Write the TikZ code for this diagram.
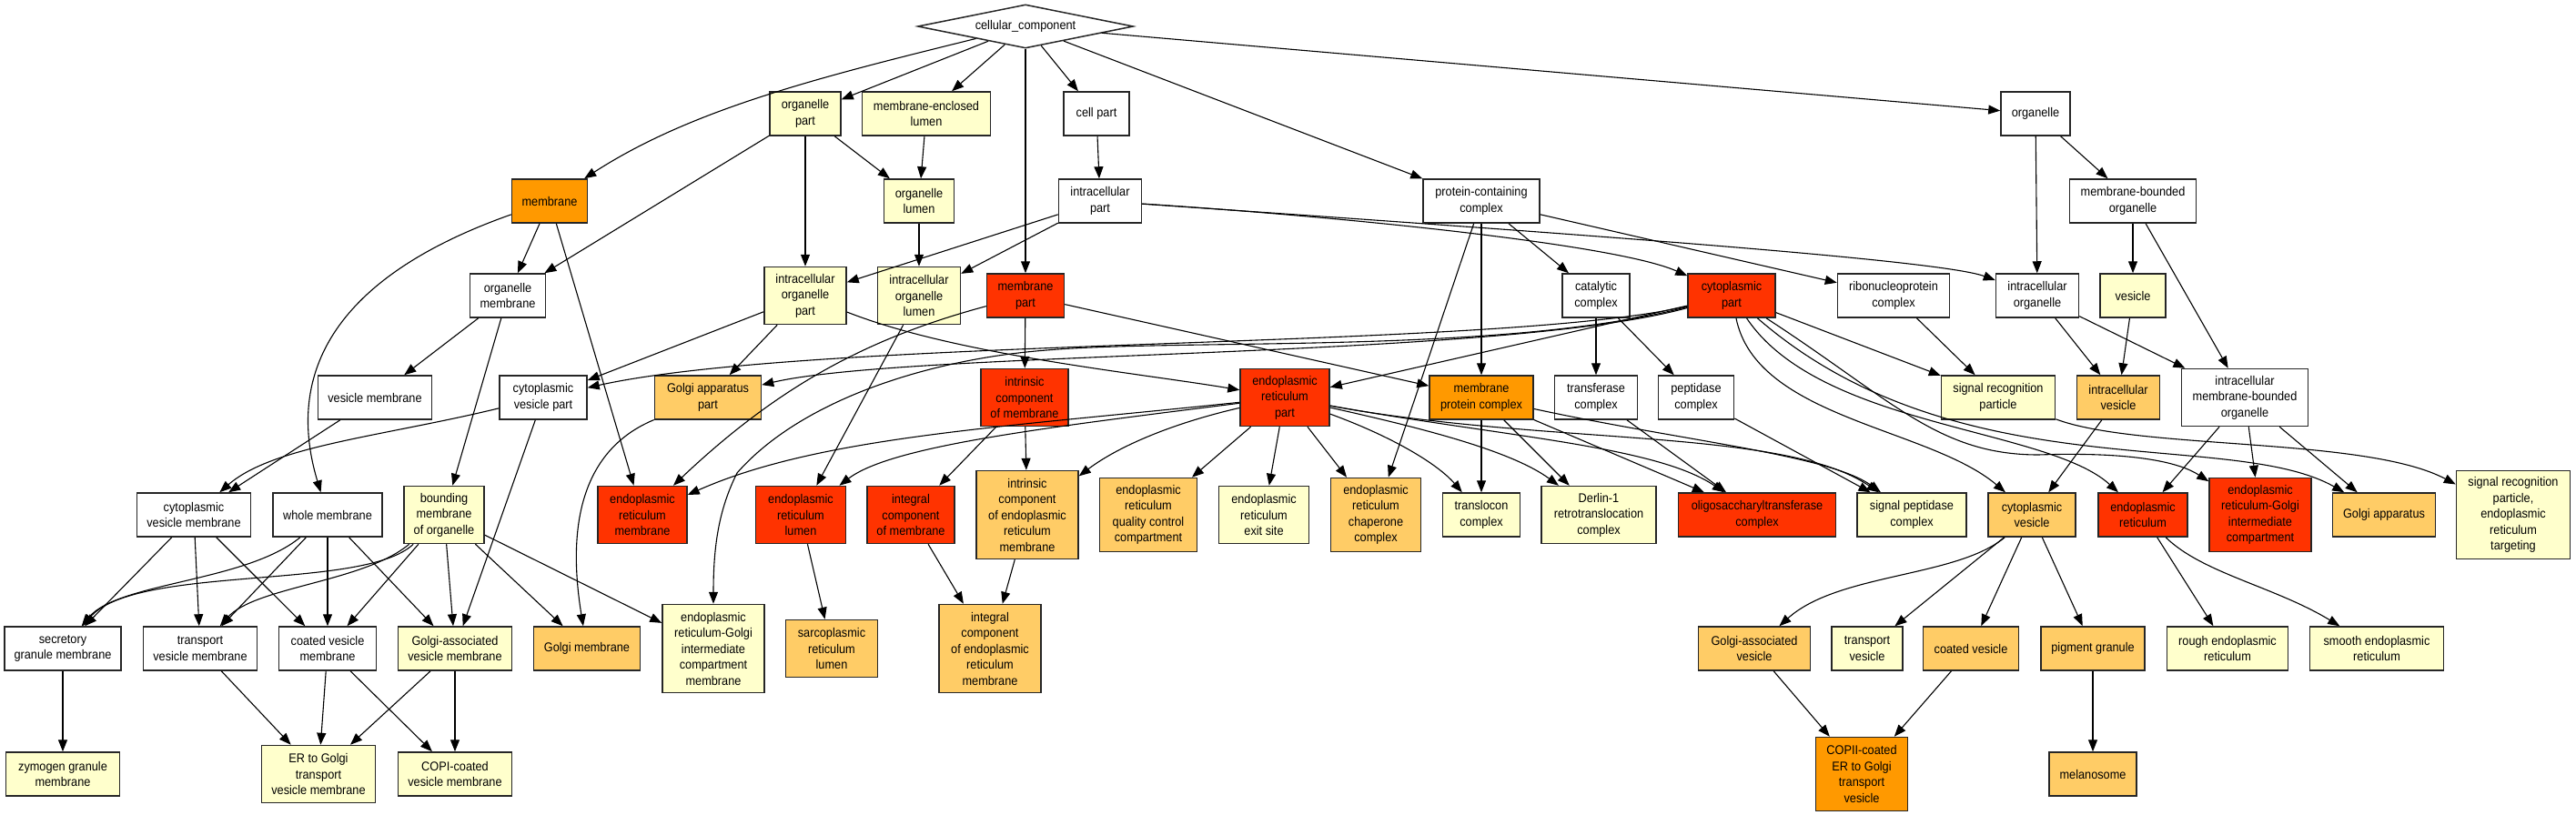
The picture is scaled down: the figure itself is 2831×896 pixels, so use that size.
\documentclass[tikz,border=0pt]{standalone}
\usepackage{fontspec}
\usepackage{tikz}
\usetikzlibrary{arrows.meta,shapes.geometric}
\newfontfamily\gofont[FakeStretch=0.91]{Liberation Sans}
\definecolor{goPale}{HTML}{FFFFCC}
\definecolor{goLight}{HTML}{FFCC66}
\definecolor{goOrange}{HTML}{FF9900}
\definecolor{goRed}{HTML}{FF3300}

\begin{document}
\begin{tikzpicture}[x=1pt,y=-1pt,
goterm/.style={draw=black!85,line width=1.5pt,rectangle,align=center,inner sep=0pt,
  font=\gofont\fontsize{14}{17.5}\selectfont},
golow/.style={goterm,fill=white},
gopale/.style={goterm,fill=goPale},
golight/.style={goterm,fill=goLight},
gomid/.style={goterm,fill=goOrange},
gohigh/.style={goterm,fill=goRed},
lines2/.style={minimum height=48},
lines3/.style={minimum height=63},
lines4/.style={minimum height=81},
lines5/.style={minimum height=97},
golink/.style={-{Triangle[length=13pt,width=10pt]},line width=1.1pt}]

\useasboundingbox (0,0) rectangle (2831,896);

% Nodes
\node[goterm,diamond,aspect=4.9,fill=white,minimum width=237,minimum height=48] (cc) at (1127,29) {cellular\_component};

\node[gomid,lines2,minimum width=83] (membrane) at (604,221) {membrane};
\node[gopale,lines2,minimum width=78] (orgpart) at (885,125) {organelle\\part};
\node[gopale,lines2,minimum width=141] (mel) at (1018,125) {membrane-enclosed\\lumen};
\node[golow,lines2,minimum width=72] (cellpart) at (1205,125) {cell part};
\node[gopale,lines2,minimum width=77] (orglumen) at (1010,221) {organelle\\lumen};
\node[golow,lines2,minimum width=91] (ip) at (1209,221) {intracellular\\part};
\node[golow,lines2,minimum width=128] (pcc) at (1628,221) {protein-containing\\complex};
\node[golow,lines2,minimum width=76] (organelle) at (2237,125) {organelle};
\node[golow,lines2,minimum width=139] (mbo) at (2344,221) {membrane-bounded\\organelle};

\node[golow,lines2,minimum width=83] (om) at (558,325) {organelle\\membrane};
\node[gopale,lines3,minimum width=90] (iop) at (885,325) {intracellular\\organelle\\part};
\node[gopale,lines3,minimum width=91] (iol) at (1010,325) {intracellular\\organelle\\lumen};
\node[gohigh,lines2,minimum width=85] (mp) at (1127,325) {membrane\\part};
\node[golow,lines2,minimum width=74] (catc) at (1754,325) {catalytic\\complex};
\node[gohigh,lines2,minimum width=96] (cp) at (1903,325) {cytoplasmic\\part};
\node[golow,lines2,minimum width=123] (rnp) at (2081,325) {ribonucleoprotein\\complex};
\node[golow,lines2,minimum width=91] (io) at (2239,325) {intracellular\\organelle};
\node[gopale,lines2,minimum width=72] (ves) at (2344,325) {vesicle};

\node[golow,lines2,minimum width=125] (vm) at (412,437) {vesicle membrane};
\node[golow,lines2,minimum width=96] (cvp) at (597,437) {cytoplasmic\\vesicle part};
\node[golight,lines2,minimum width=117] (gap) at (778,437) {Golgi apparatus\\part};
\node[gohigh,lines3,minimum width=96] (icm) at (1126,437) {intrinsic\\component\\of membrane};
\node[gohigh,lines3,minimum width=98] (erpart) at (1412,437) {endoplasmic\\reticulum\\part};
\node[gomid,lines2,minimum width=114] (mpc) at (1628,437) {membrane\\protein complex};
\node[golow,lines2,minimum width=91] (trc) at (1754,437) {transferase\\complex};
\node[golow,lines2,minimum width=83] (pepc) at (1864,437) {peptidase\\complex};
\node[gopale,lines2,minimum width=125] (srp) at (2196,437) {signal recognition\\particle};
\node[golight,lines2,minimum width=91] (iv) at (2328,437) {intracellular\\vesicle};
\node[golow,lines3,minimum width=139] (imbo) at (2467,437) {intracellular\\membrane-bounded\\organelle};

\node[golow,lines2,minimum width=125] (cvm) at (213,566) {cytoplasmic\\vesicle membrane};
\node[golow,lines2,minimum width=120] (wm) at (360,566) {whole membrane};
\node[gopale,lines3,minimum width=88] (bmo) at (488,566) {bounding\\membrane\\of organelle};
\node[gohigh,lines3,minimum width=98] (erm) at (706,566) {endoplasmic\\reticulum\\membrane};
\node[gohigh,lines3,minimum width=99] (erl) at (880,566) {endoplasmic\\reticulum\\lumen};
\node[gohigh,lines3,minimum width=96] (intm) at (1001,566) {integral\\component\\of membrane};
\node[golight,lines5,minimum width=112] (icerm) at (1129,566) {intrinsic\\component\\of endoplasmic\\reticulum\\membrane};
\node[golight,lines4,minimum width=107] (erqc) at (1262,566) {endoplasmic\\reticulum\\quality control\\compartment};
\node[gopale,lines3,minimum width=99] (eres) at (1389,566) {endoplasmic\\reticulum\\exit site};
\node[golight,lines4,minimum width=99] (erchap) at (1512,566) {endoplasmic\\reticulum\\chaperone\\complex};
\node[gopale,lines2,minimum width=85] (transl) at (1628,566) {translocon\\complex};
\node[gopale,lines3,minimum width=126] (derlin) at (1757,566) {Derlin-1\\retrotranslocation\\complex};
\node[gohigh,lines2,minimum width=173] (ost) at (1931,566) {oligosaccharyltransferase\\complex};
\node[gopale,lines2,minimum width=120] (spc) at (2101,566) {signal peptidase\\complex};
\node[golight,lines2,minimum width=96] (cv) at (2233,566) {cytoplasmic\\vesicle};
\node[gohigh,lines2,minimum width=98] (er) at (2355,566) {endoplasmic\\reticulum};
\node[gohigh,lines4,minimum width=112] (ergic) at (2484,566) {endoplasmic\\reticulum-Golgi\\intermediate\\compartment};
\node[golight,lines2,minimum width=113] (ga) at (2620,566) {Golgi apparatus};
\node[gopale,lines5,minimum width=125] (srpt) at (2762,566) {signal recognition\\particle,\\endoplasmic\\reticulum\\targeting};

\node[golow,lines2,minimum width=128] (sgm) at (69,713) {secretory\\granule membrane};
\node[golow,lines2,minimum width=125] (tvm) at (220,713) {transport\\vesicle membrane};
\node[golow,lines2,minimum width=107] (covm) at (360,713) {coated vesicle\\membrane};
\node[gopale,lines2,minimum width=125] (gavm) at (500,713) {Golgi-associated\\vesicle membrane};
\node[golight,lines2,minimum width=117] (gm) at (645,713) {Golgi membrane};
\node[gopale,lines5,minimum width=112] (ergicm) at (784,713) {endoplasmic\\reticulum-Golgi\\intermediate\\compartment\\membrane};
\node[golight,lines3,minimum width=101] (srl) at (914,713) {sarcoplasmic\\reticulum\\lumen};
\node[golight,lines5,minimum width=112] (interm) at (1088,713) {integral\\component\\of endoplasmic\\reticulum\\membrane};
\node[golight,lines2,minimum width=123] (gav) at (1928,713) {Golgi-associated\\vesicle};
\node[gopale,lines2,minimum width=78] (tv) at (2052,713) {transport\\vesicle};
\node[golight,lines2,minimum width=105] (cov) at (2166,713) {coated vesicle};
\node[golight,lines2,minimum width=114] (pg) at (2300,713) {pigment granule};
\node[gopale,lines2,minimum width=133] (rer) at (2448,713) {rough endoplasmic\\reticulum};
\node[gopale,lines2,minimum width=147] (ser) at (2612,713) {smooth endoplasmic\\reticulum};

\node[gopale,lines2,minimum width=125] (zgm) at (69,851) {zymogen granule\\membrane};
\node[gopale,lines3,minimum width=125] (ertg) at (350,851) {ER to Golgi\\transport\\vesicle membrane};
\node[gopale,lines2,minimum width=125] (copi) at (500,851) {COPI-coated\\vesicle membrane};
\node[gomid,lines4,minimum width=101] (copii) at (2046,851) {COPII-coated\\ER to Golgi\\transport\\vesicle};
\node[golight,lines2,minimum width=96] (melano) at (2300,851) {melanosome};

% Edges
\draw[golink] (cc) .. controls (900,85) and (760,120) .. (membrane);
\draw[golink] (cc) -- (orgpart);
\draw[golink] (cc) -- (mel);
\draw[golink] (cc) -- (mp);
\draw[golink] (cc) -- (cellpart);
\draw[golink] (cc) -- (pcc);
\draw[golink] (cc) -- (organelle);

\draw[golink] (orgpart) -- (om);
\draw[golink] (orgpart) -- (iop);
\draw[golink] (orgpart) -- (orglumen);
\draw[golink] (mel) -- (orglumen);
\draw[golink] (cellpart) -- (ip);
\draw[golink] (orglumen) -- (iol);
\draw[golink] (ip) -- (iop);
\draw[golink] (ip) -- (iol);
\draw[golink] (ip) .. controls (1500,240) and (1780,270) .. (cp);
\draw[golink] (ip) .. controls (1700,255) and (2130,285) .. (io);

\draw[golink] (membrane) -- (om);
\draw[golink] (membrane) -- (erm);
\draw[golink] (membrane) .. controls (380,300) and (310,400) .. (wm);
\draw[golink] (om) -- (vm);
\draw[golink] (om) -- (bmo);
\draw[golink] (vm) -- (cvm);
\draw[golink] (cvp) .. controls (420,480) and (300,490) .. (cvm);
\draw[golink] (cvp) -- (gavm);
\draw[golink] (iop) -- (cvp);
\draw[golink] (iop) -- (gap);
\draw[golink] (iop) .. controls (1050,390) and (1250,410) .. (erpart);
\draw[golink] (iol) -- (erl);

\draw[golink] (mp) .. controls (960,370) and (860,420) .. (erm);
\draw[golink] (mp) -- (icm);
\draw[golink] (mp) -- (mpc);
\draw[golink] (erpart) .. controls (1100,470) and (900,480) .. (erm);
\draw[golink] (erpart) .. controls (1150,470) and (980,490) .. (erl);
\draw[golink] (erpart) .. controls (1290,465) and (1230,490) .. (icerm);
\draw[golink] (erpart) -- (erqc);
\draw[golink] (erpart) -- (eres);
\draw[golink] (erpart) -- (erchap);
\draw[golink] (erpart) .. controls (1530,480) and (1580,510) .. (transl);
\draw[golink] (erpart) .. controls (1560,470) and (1660,495) .. (derlin);
\draw[golink] (erpart) .. controls (1650,480) and (1820,490) .. (ost);
\draw[golink] (erpart) .. controls (1700,490) and (1960,470) .. (spc);
\draw[golink] (icm) -- (intm);
\draw[golink] (icm) -- (icerm);
\draw[golink] (intm) -- (interm);
\draw[golink] (icerm) -- (interm);
\draw[golink] (erl) -- (srl);

\draw[golink] (pcc) -- (catc);
\draw[golink] (pcc) -- (mpc);
\draw[golink] (pcc) -- (erchap);
\draw[golink] (pcc) -- (rnp);
\draw[golink] (catc) -- (trc);
\draw[golink] (catc) -- (pepc);
\draw[golink] (trc) -- (ost);
\draw[golink] (pepc) -- (spc);
\draw[golink] (mpc) -- (transl);
\draw[golink] (mpc) -- (derlin);
\draw[golink] (mpc) -- (ost);
\draw[golink] (mpc) .. controls (1850,485) and (2010,500) .. (spc);

\draw[golink] (cp) -- (erpart);
\draw[golink] (cp) .. controls (1650,385) and (900,370) .. (cvp);
\draw[golink] (cp) .. controls (1650,395) and (1000,385) .. (gap);
\draw[golink] (cp) .. controls (1650,390) and (1300,372) .. (1150,385)
  .. controls (1020,395) and (880,440) .. (810,520)
  .. controls (790,560) and (784,600) .. (ergicm);
\draw[golink] (cp) .. controls (1930,460) and (2120,470) .. (cv);
\draw[golink] (cp) .. controls (2000,470) and (2250,470) .. (er);
\draw[golink] (cp) .. controls (2080,440) and (2130,500) .. (2240,500)
  .. controls (2330,497) and (2390,505) .. (ergic);
\draw[golink] (cp) .. controls (2150,540) and (2450,470) .. (ga);
\draw[golink] (cp) -- (srp);

\draw[golink] (rnp) -- (srp);
\draw[golink] (organelle) -- (io);
\draw[golink] (organelle) -- (mbo);
\draw[golink] (mbo) -- (ves);
\draw[golink] (mbo) -- (imbo);
\draw[golink] (io) -- (iv);
\draw[golink] (io) -- (imbo);
\draw[golink] (ves) -- (iv);
\draw[golink] (iv) -- (cv);
\draw[golink] (imbo) -- (er);
\draw[golink] (imbo) -- (ergic);
\draw[golink] (imbo) -- (ga);
\draw[golink] (srp) .. controls (2350,495) and (2600,480) .. (srpt);

\draw[golink] (cv) .. controls (2150,635) and (2020,630) .. (gav);
\draw[golink] (cv) -- (tv);
\draw[golink] (cv) -- (cov);
\draw[golink] (cv) -- (pg);
\draw[golink] (gav) -- (copii);
\draw[golink] (cov) -- (copii);
\draw[golink] (pg) -- (melano);
\draw[golink] (er) -- (rer);
\draw[golink] (er) .. controls (2420,630) and (2500,645) .. (ser);

\draw[golink] (bmo) .. controls (400,650) and (150,620) .. (sgm);
\draw[golink] (bmo) .. controls (400,640) and (280,645) .. (tvm);
\draw[golink] (wm) .. controls (270,640) and (130,640) .. (sgm);
\draw[golink] (cvm) -- (sgm);
\draw[golink] (cvm) -- (tvm);
\draw[golink] (cvm) -- (covm);
\draw[golink] (wm) -- (tvm);
\draw[golink] (wm) -- (covm);
\draw[golink] (wm) -- (gavm);
\draw[golink] (bmo) -- (covm);
\draw[golink] (bmo) -- (gavm);
\draw[golink] (bmo) -- (gm);
\draw[golink] (bmo) -- (ergicm);
\draw[golink] (gap) .. controls (650,490) and (620,560) .. (gm);
\draw[golink] (sgm) -- (zgm);
\draw[golink] (tvm) -- (ertg);
\draw[golink] (covm) -- (ertg);
\draw[golink] (covm) -- (copi);
\draw[golink] (gavm) -- (ertg);
\draw[golink] (gavm) -- (copi);

\end{tikzpicture}
\end{document}
